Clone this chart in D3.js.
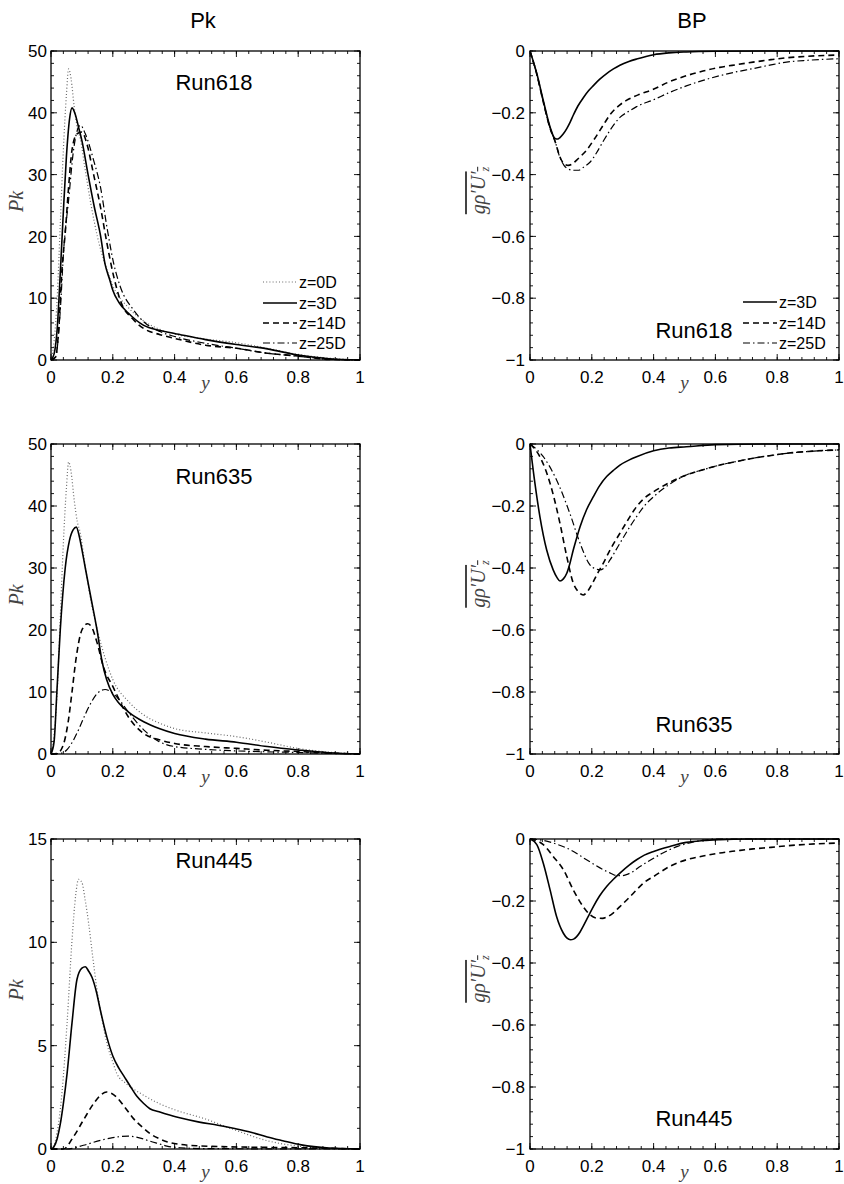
<!DOCTYPE html>
<html>
<head>
<meta charset="utf-8">
<script src="https://cdn.jsdelivr.net/npm/d3@7/dist/d3.min.js"></script>
<style>
  html, body { margin: 0; padding: 0; background: #fff; }
  svg { display: block; font-family: "Liberation Sans", Arial, sans-serif; }
</style>
</head>
<body>
<svg id="chart" width="844" height="1184"></svg>
<script>
// ---------- tick labels ----------
const xTicks = [0, 0.2, 0.4, 0.6, 0.8, 1];
const pkTicks = [0, 10, 20, 30, 40, 50];
const pk445Ticks = [0, 5, 10, 15];
const bpTicks = [-1, -0.8, -0.6, -0.4, -0.2, 0];
const columnTitles = ["Pk", "BP"];
const pkLegend = ["z=0D", "z=3D", "z=14D", "z=25D"];
const bpLegend = ["z=3D", "z=14D", "z=25D"];
const runNames = ["Run618", "Run635", "Run445"];

// ---------- Run618 Pk ----------
const pk618_z0_x = [0,0.01,0.02,0.03,0.04,0.05,0.057,0.065,0.075,0.085,0.095,0.11,0.13,0.15,0.175,0.2,0.25,0.3,0.35,0.4,0.5,0.6,0.7,0.8,0.9,1];
const pk618_z0_y = [0,3,10,22,34,43,47.1,45.5,41,37.5,35.8,31,25,20,15.5,12,8.5,6.3,5,4.2,3.4,2.8,1.9,0.9,0.3,0];
const pk618_z3_x = [0,0.01,0.02,0.03,0.04,0.05,0.06,0.068,0.08,0.09,0.1,0.12,0.14,0.16,0.175,0.19,0.2,0.22,0.25,0.3,0.35,0.4,0.5,0.6,0.7,0.8,0.9,1];
const pk618_z3_y = [0,1,5,14,24,33,39,40.8,39.5,37.5,35.5,30,24.8,20.2,15.5,13,11.3,9.3,7.6,5.6,4.8,4.3,3.3,2.5,1.8,0.8,0.2,0];
const pk618_z14_x = [0,0.015,0.025,0.036,0.046,0.057,0.068,0.084,0.1,0.116,0.138,0.16,0.181,0.203,0.224,0.267,0.3,0.353,0.4,0.5,0.6,0.7,0.8,0.9,1];
const pk618_z14_y = [0,0.5,5,15,20.5,28,34,36.6,36.9,35,30,24.8,18.9,13.5,9.7,6.5,5.1,4.1,3.5,2.4,1.9,1.1,0.65,0.1,0];
const pk618_z25_x = [0,0.015,0.03,0.041,0.057,0.073,0.095,0.111,0.138,0.16,0.181,0.203,0.224,0.267,0.3,0.353,0.4,0.5,0.6,0.7,0.8,0.9,1];
const pk618_z25_y = [0,0.5,8,17.8,25.9,34,38,36.6,32.3,28,21.5,15.6,11.9,8.1,6.2,4.6,3.8,2.7,1.9,1.1,0.6,0.15,0];

// ---------- Run635 Pk ----------
const pk635_z0_x = [0,0.01,0.02,0.03,0.04,0.05,0.057,0.065,0.075,0.085,0.095,0.11,0.13,0.15,0.175,0.2,0.25,0.3,0.35,0.4,0.5,0.6,0.7,0.8,0.9,1];
const pk635_z0_y = [0,3,10,22,34,43,47.1,45.5,41,37.5,35.6,30.5,24.5,20,15.5,12,8.5,6.3,5,4.1,3.4,2.8,1.9,0.9,0.3,0];
const pk635_z3_x = [0,0.01,0.019,0.03,0.046,0.06,0.072,0.082,0.092,0.1,0.111,0.13,0.149,0.165,0.18,0.2,0.22,0.25,0.3,0.35,0.4,0.5,0.6,0.7,0.8,0.9,1];
const pk635_z3_y = [0,2,10,20,30,34.5,36.2,36.6,35,33,30,25,20,15,12,9.6,8.2,6.8,5.2,4.1,3.3,2.4,1.9,1.2,0.65,0.2,0];
const pk635_z14_x = [0,0.02,0.04,0.055,0.068,0.08,0.1,0.118,0.13,0.15,0.17,0.2,0.25,0.3,0.35,0.4,0.5,0.6,0.7,0.8,0.9,1];
const pk635_z14_y = [0,0.1,1.5,5,10,15,20,21,20.6,17.8,14,10.9,6,3.3,2.3,1.7,1.2,0.9,0.6,0.4,0.15,0];
const pk635_z25_x = [0,0.03,0.05,0.07,0.09,0.11,0.13,0.15,0.175,0.2,0.225,0.25,0.3,0.35,0.4,0.5,0.6,0.7,0.8,0.9,1];
const pk635_z25_y = [0,0.1,0.6,2,4,6.3,8.3,9.8,10.4,9.8,8.5,6.8,3.9,2,1.2,0.75,0.5,0.35,0.25,0.1,0];

// ---------- Run445 Pk ----------
const pk445_z0_x = [0,0.014,0.025,0.036,0.052,0.068,0.08,0.089,0.1,0.11,0.122,0.135,0.149,0.165,0.181,0.2,0.213,0.24,0.267,0.3,0.35,0.4,0.5,0.59,0.7,0.81,0.9,1];
const pk445_z0_y = [0,0.4,1.3,2.8,6.1,10.1,12.3,13.05,12.9,12.1,10.9,9.3,7.7,6.3,5.1,4.2,3.65,3.2,2.9,2.6,2.2,1.9,1.45,0.95,0.4,0.12,0.02,0];
const pk445_z3_x = [0,0.009,0.02,0.03,0.04,0.052,0.068,0.084,0.1,0.111,0.122,0.133,0.147,0.16,0.181,0.2,0.22,0.235,0.256,0.278,0.3,0.32,0.35,0.375,0.42,0.48,0.54,0.59,0.65,0.7,0.75,0.81,0.9,1];
const pk445_z3_y = [0,0.1,0.5,1.2,2.2,3.65,6.1,8.2,8.75,8.82,8.6,8.3,7.6,6.7,5.4,4.5,3.9,3.55,3.05,2.55,2.2,1.95,1.8,1.68,1.5,1.3,1.15,1.0,0.8,0.58,0.4,0.2,0.05,0];
const pk445_z14_x = [0,0.04,0.073,0.105,0.138,0.16,0.18,0.195,0.213,0.24,0.267,0.3,0.32,0.35,0.375,0.42,0.48,0.6,0.8,1];
const pk445_z14_y = [0,0,0.6,1.4,2.2,2.6,2.76,2.7,2.5,2.0,1.47,1.0,0.75,0.5,0.35,0.22,0.15,0.1,0.06,0];
const pk445_z25_x = [0,0.05,0.105,0.16,0.2,0.225,0.25,0.267,0.3,0.32,0.35,0.375,0.42,0.5,1];
const pk445_z25_y = [0,0,0.18,0.42,0.55,0.6,0.62,0.6,0.48,0.38,0.25,0.14,0.06,0.02,0];

// ---------- Run618 BP ----------
const bp618_z3_x = [0,0.022,0.043,0.065,0.081,0.09,0.097,0.108,0.119,0.13,0.14,0.155,0.172,0.19,0.205,0.225,0.248,0.27,0.291,0.32,0.345,0.4,0.45,0.506,0.6,0.8,1];
const bp618_z3_y = [0,-0.073,-0.16,-0.246,-0.283,-0.285,-0.28,-0.268,-0.251,-0.23,-0.208,-0.178,-0.152,-0.128,-0.112,-0.092,-0.073,-0.058,-0.046,-0.034,-0.026,-0.012,-0.006,-0.003,-0.001,0,0];
const bp618_z14_x = [0,0.022,0.043,0.065,0.081,0.097,0.11,0.124,0.138,0.151,0.167,0.183,0.205,0.237,0.26,0.29,0.312,0.35,0.399,0.45,0.506,0.56,0.614,0.67,0.722,0.78,0.83,0.9,1];
const bp618_z14_y = [0,-0.075,-0.165,-0.25,-0.292,-0.343,-0.365,-0.37,-0.365,-0.353,-0.338,-0.321,-0.29,-0.24,-0.205,-0.175,-0.16,-0.142,-0.124,-0.1,-0.08,-0.065,-0.053,-0.044,-0.036,-0.028,-0.022,-0.017,-0.013];
const bp618_z25_x = [0,0.022,0.043,0.065,0.081,0.097,0.11,0.124,0.14,0.156,0.175,0.194,0.215,0.237,0.26,0.291,0.32,0.345,0.399,0.45,0.506,0.56,0.614,0.67,0.722,0.78,0.83,0.9,1];
const bp618_z25_y = [0,-0.075,-0.165,-0.25,-0.292,-0.345,-0.37,-0.382,-0.386,-0.386,-0.375,-0.36,-0.33,-0.292,-0.255,-0.215,-0.195,-0.18,-0.158,-0.135,-0.113,-0.095,-0.08,-0.067,-0.057,-0.045,-0.036,-0.03,-0.025];

// ---------- Run635 BP ----------
const bp635_z3_x = [0,0.016,0.032,0.054,0.075,0.088,0.097,0.108,0.119,0.13,0.14,0.151,0.162,0.183,0.205,0.225,0.248,0.27,0.291,0.32,0.345,0.4,0.45,0.506,0.6,0.8,1];
const bp635_z3_y = [0,-0.127,-0.234,-0.342,-0.406,-0.432,-0.442,-0.435,-0.417,-0.382,-0.342,-0.303,-0.267,-0.212,-0.17,-0.135,-0.105,-0.085,-0.068,-0.052,-0.041,-0.022,-0.013,-0.009,-0.002,0,0];
const bp635_z14_x = [0,0.032,0.065,0.097,0.119,0.14,0.155,0.172,0.19,0.205,0.22,0.237,0.26,0.291,0.32,0.345,0.37,0.4,0.45,0.506,0.56,0.614,0.67,0.722,0.78,0.83,0.9,1];
const bp635_z14_y = [0,-0.041,-0.127,-0.256,-0.363,-0.449,-0.475,-0.487,-0.47,-0.444,-0.415,-0.385,-0.34,-0.288,-0.24,-0.202,-0.175,-0.154,-0.125,-0.1,-0.083,-0.068,-0.056,-0.046,-0.037,-0.03,-0.024,-0.019];
const bp635_z25_x = [0,0.043,0.086,0.129,0.162,0.194,0.21,0.226,0.242,0.259,0.291,0.32,0.345,0.37,0.4,0.45,0.506,0.56,0.614,0.67,0.722,0.78,0.83,0.9,1];
const bp635_z25_y = [0,-0.041,-0.116,-0.224,-0.32,-0.39,-0.402,-0.406,-0.398,-0.374,-0.32,-0.272,-0.234,-0.2,-0.17,-0.131,-0.1,-0.083,-0.068,-0.056,-0.046,-0.037,-0.03,-0.024,-0.019];

// ---------- Run445 BP ----------
const bp445_z3_x = [0,0.022,0.043,0.065,0.086,0.108,0.12,0.131,0.141,0.151,0.162,0.172,0.19,0.205,0.225,0.248,0.27,0.291,0.32,0.345,0.37,0.4,0.453,0.506,0.56,0.614,0.7,1];
const bp445_z3_y = [0,-0.018,-0.078,-0.164,-0.25,-0.304,-0.32,-0.325,-0.323,-0.315,-0.3,-0.282,-0.247,-0.218,-0.184,-0.153,-0.13,-0.11,-0.085,-0.067,-0.052,-0.04,-0.024,-0.011,-0.005,-0.002,0,0];
const bp445_z14_x = [0,0.043,0.075,0.108,0.14,0.172,0.195,0.215,0.235,0.248,0.27,0.291,0.32,0.345,0.37,0.4,0.453,0.506,0.56,0.614,0.67,0.722,0.78,0.83,0.9,1];
const bp445_z14_y = [0,-0.018,-0.056,-0.099,-0.164,-0.218,-0.245,-0.255,-0.256,-0.252,-0.238,-0.218,-0.19,-0.164,-0.14,-0.121,-0.088,-0.067,-0.055,-0.045,-0.038,-0.032,-0.027,-0.022,-0.017,-0.013];
const bp445_z25_x = [0,0.04,0.075,0.129,0.183,0.237,0.26,0.28,0.3,0.312,0.335,0.356,0.38,0.4,0.43,0.453,0.48,0.506,0.53,0.56,0.6,1];
const bp445_z25_y = [0,-0.004,-0.013,-0.034,-0.067,-0.099,-0.11,-0.118,-0.118,-0.115,-0.104,-0.089,-0.074,-0.062,-0.045,-0.034,-0.023,-0.015,-0.009,-0.004,0,0];

// ---------- styles ----------
const styles = {
  "z=0D":  { stroke: "#6a6a6a", width: 1.2, dash: "1,2.2" },
  "z=3D":  { stroke: "#000", width: 1.6, dash: null },
  "z=14D": { stroke: "#000", width: 1.6, dash: "6,4" },
  "z=25D": { stroke: "#000", width: 1.2, dash: "7,3,1.5,3" }
};

function zip(xs, ys) { return xs.map((x, i) => [x, ys[i]]); }

const rowsY = [[51, 360], [444, 754], [839, 1149]];
const colsX = [[51, 360], [530, 839]];

const panels = [
  { row: 0, col: 0, kind: "pk", domain: [0, 50], ticks: pkTicks, minor: 2, run: runNames[0], runPos: [214, 90],
    series: [["z=0D", zip(pk618_z0_x, pk618_z0_y)], ["z=14D", zip(pk618_z14_x, pk618_z14_y)], ["z=25D", zip(pk618_z25_x, pk618_z25_y)], ["z=3D", zip(pk618_z3_x, pk618_z3_y)]],
    legend: { items: pkLegend, x0: 263, x1: 297, ys: [282, 303, 323, 343] } },
  { row: 0, col: 1, kind: "bp", domain: [-1, 0], ticks: bpTicks, minor: 0.04, run: runNames[0], runPos: [694, 338],
    series: [["z=25D", zip(bp618_z25_x, bp618_z25_y)], ["z=14D", zip(bp618_z14_x, bp618_z14_y)], ["z=3D", zip(bp618_z3_x, bp618_z3_y)]],
    legend: { items: bpLegend, x0: 743, x1: 777, ys: [302, 323, 343] } },
  { row: 1, col: 0, kind: "pk", domain: [0, 50], ticks: pkTicks, minor: 2, run: runNames[1], runPos: [214, 484],
    series: [["z=0D", zip(pk635_z0_x, pk635_z0_y)], ["z=25D", zip(pk635_z25_x, pk635_z25_y)], ["z=14D", zip(pk635_z14_x, pk635_z14_y)], ["z=3D", zip(pk635_z3_x, pk635_z3_y)]] },
  { row: 1, col: 1, kind: "bp", domain: [-1, 0], ticks: bpTicks, minor: 0.04, run: runNames[1], runPos: [694, 732],
    series: [["z=25D", zip(bp635_z25_x, bp635_z25_y)], ["z=14D", zip(bp635_z14_x, bp635_z14_y)], ["z=3D", zip(bp635_z3_x, bp635_z3_y)]] },
  { row: 2, col: 0, kind: "pk", domain: [0, 15], ticks: pk445Ticks, minor: 1, run: runNames[2], runPos: [214, 868],
    series: [["z=0D", zip(pk445_z0_x, pk445_z0_y)], ["z=25D", zip(pk445_z25_x, pk445_z25_y)], ["z=14D", zip(pk445_z14_x, pk445_z14_y)], ["z=3D", zip(pk445_z3_x, pk445_z3_y)]] },
  { row: 2, col: 1, kind: "bp", domain: [-1, 0], ticks: bpTicks, minor: 0.04, run: runNames[2], runPos: [694, 1126],
    series: [["z=25D", zip(bp445_z25_x, bp445_z25_y)], ["z=14D", zip(bp445_z14_x, bp445_z14_y)], ["z=3D", zip(bp445_z3_x, bp445_z3_y)]] }
];

const svg = d3.select("#chart");
const fmt = d3.format("");
const SERIF = '"Liberation Serif", "Times New Roman", serif';

// column titles
svg.append("text").attr("x", 203).attr("y", 28).attr("text-anchor", "middle").attr("font-size", 22).text(columnTitles[0]);
svg.append("text").attr("x", 692).attr("y", 28).attr("text-anchor", "middle").attr("font-size", 22).text(columnTitles[1]);

panels.forEach(p => {
  const [x0, x1] = colsX[p.col];
  const [yT, yB] = rowsY[p.row];
  const xs = d3.scaleLinear().domain([0, 1]).range([x0, x1]);
  const ys = d3.scaleLinear().domain(p.domain).range([yB, yT]);
  const g = svg.append("g");

  // curves
  const line = d3.line().x(d => xs(d[0])).y(d => ys(d[1])).curve(d3.curveMonotoneX);
  const clipId = "clip" + p.row + p.col;
  g.append("clipPath").attr("id", clipId).append("rect")
    .attr("x", x0).attr("y", yT - 1).attr("width", x1 - x0).attr("height", yB - yT + 2);
  const cg = g.append("g").attr("clip-path", `url(#${clipId})`);
  p.series.forEach(([name, pts]) => {
    const s = styles[name];
    cg.append("path").attr("d", line(pts)).attr("fill", "none")
      .attr("stroke", s.stroke).attr("stroke-width", s.width)
      .attr("stroke-dasharray", s.dash).attr("stroke-linejoin", "round");
  });

  // ticks (inward, all four sides)
  const minorX = d3.range(0, 1.0001, 0.04);
  const minorY = d3.range(p.domain[0], p.domain[1] + 1e-6, p.minor);
  const tk = g.append("g").attr("stroke", "#000").attr("stroke-width", 0.9);
  minorX.forEach(v => {
    const X = xs(v);
    tk.append("line").attr("x1", X).attr("x2", X).attr("y1", yB).attr("y2", yB - 3);
    tk.append("line").attr("x1", X).attr("x2", X).attr("y1", yT).attr("y2", yT + 3);
  });
  minorY.forEach(v => {
    const Y = ys(v);
    tk.append("line").attr("x1", x0).attr("x2", x0 + 3).attr("y1", Y).attr("y2", Y);
    tk.append("line").attr("x1", x1).attr("x2", x1 - 3).attr("y1", Y).attr("y2", Y);
  });
  xTicks.forEach(v => {
    const X = xs(v);
    tk.append("line").attr("x1", X).attr("x2", X).attr("y1", yB).attr("y2", yB - 6);
    tk.append("line").attr("x1", X).attr("x2", X).attr("y1", yT).attr("y2", yT + 6);
  });
  p.ticks.forEach(v => {
    const Y = ys(v);
    tk.append("line").attr("x1", x0).attr("x2", x0 + 6).attr("y1", Y).attr("y2", Y);
    tk.append("line").attr("x1", x1).attr("x2", x1 - 6).attr("y1", Y).attr("y2", Y);
  });

  // frame
  g.append("rect").attr("x", x0).attr("y", yT).attr("width", x1 - x0).attr("height", yB - yT)
    .attr("fill", "none").attr("stroke", "#000").attr("stroke-width", 1.3);

  // tick labels
  xTicks.forEach(v => {
    g.append("text").attr("x", xs(v)).attr("y", yB + 23).attr("text-anchor", "middle")
      .attr("font-size", 17).text(fmt(v));
  });
  const labelEnd = p.kind === "pk" ? x0 - 4 : x0 - 5;
  p.ticks.forEach(v => {
    g.append("text").attr("x", labelEnd).attr("y", ys(v)).attr("dy", "0.36em").attr("text-anchor", "end")
      .attr("font-size", 17).text(fmt(v));
  });

  // axis labels
  g.append("text").attr("x", (x0 + x1) / 2).attr("y", yB + 29).attr("text-anchor", "middle")
    .style("font-family", SERIF).style("font-style", "italic")
    .attr("font-size", 19).style("fill", "#444").text("y");
  const cy = (yT + yB) / 2;
  if (p.kind === "pk") {
    g.append("text").attr("transform", `translate(${x0 - 28},${cy - 4}) rotate(-90)`)
      .attr("text-anchor", "middle").style("font-family", SERIF)
      .style("font-style", "italic").attr("font-size", 20).style("fill", "#444").text("Pk");
  } else {
    const t = g.append("text").attr("transform", `translate(${x0 - 45},${cy - 15}) rotate(-90)`)
      .attr("text-anchor", "middle").style("font-family", SERIF)
      .style("font-style", "italic").attr("font-size", 20).style("fill", "#444")
      .style("text-decoration", "overline");
    t.append("tspan").text("gρ′U′");
    t.append("tspan").attr("font-size", 12).attr("dy", 4).text("z");
  }

  // run label
  g.append("text").attr("x", p.runPos[0]).attr("y", p.runPos[1]).attr("text-anchor", "middle")
    .attr("font-size", 22).text(p.run);

  // legend
  if (p.legend) {
    p.legend.items.forEach((name, i) => {
      const s = styles[name];
      const Y = p.legend.ys[i];
      g.append("line").attr("x1", p.legend.x0).attr("x2", p.legend.x1).attr("y1", Y).attr("y2", Y)
        .attr("stroke", s.stroke).attr("stroke-width", s.width).attr("stroke-dasharray", s.dash);
      g.append("text").attr("x", p.legend.x1 + 2).attr("y", Y).attr("dy", "0.36em")
        .attr("font-size", 16).text(name);
    });
  }
});
</script>
</body>
</html>
